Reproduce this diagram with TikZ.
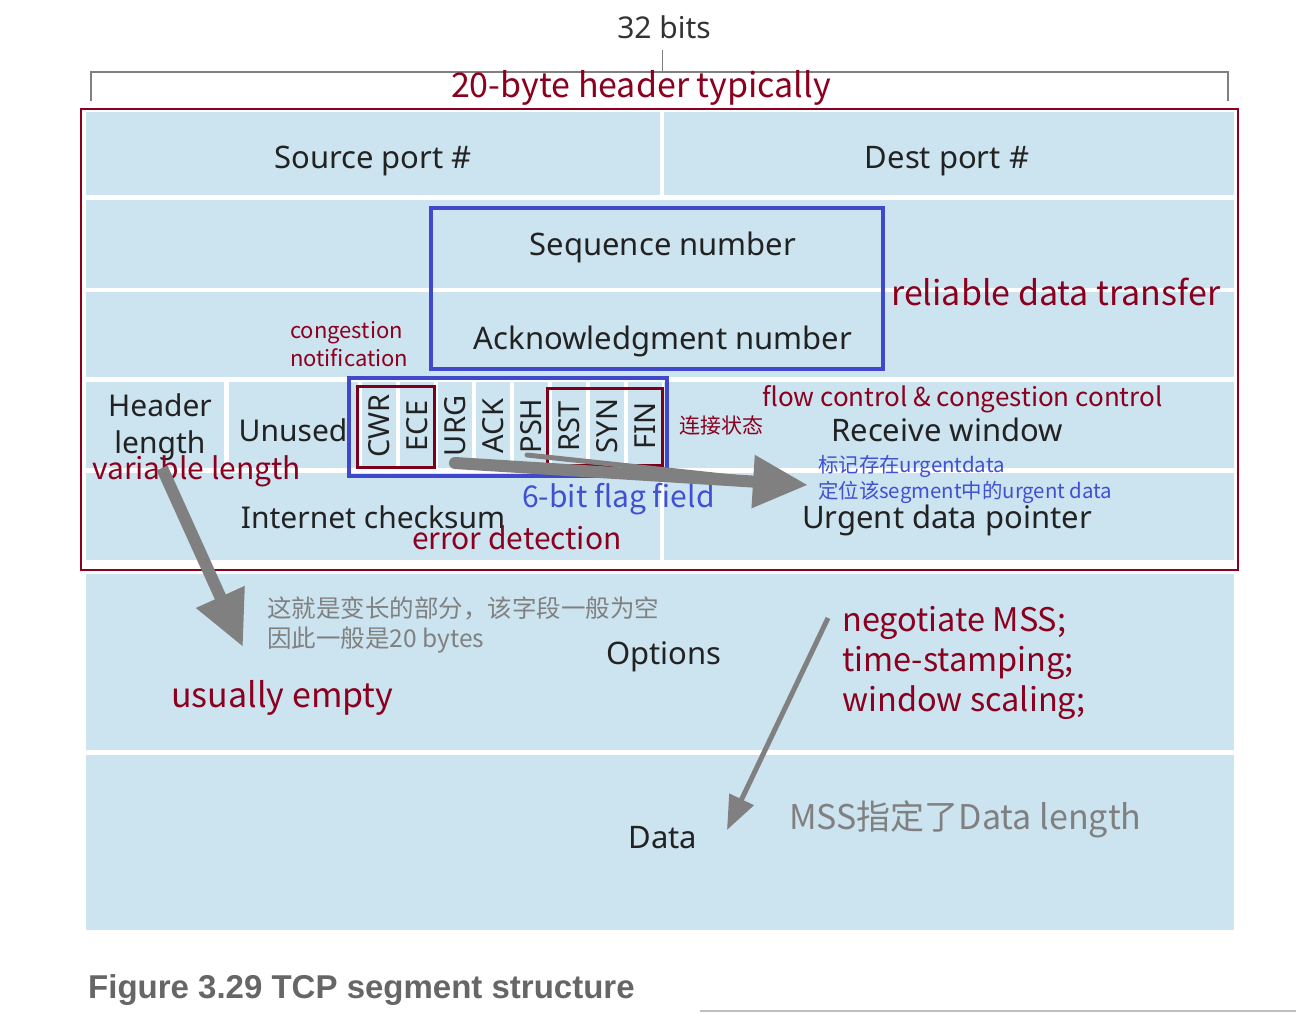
\documentclass[tikz,border=0pt]{standalone}
\usepackage{fontspec}
\setmainfont{Noto Sans}
\newfontfamily\cjk{Noto Sans CJK SC}
\newfontfamily\capfont{Liberation Sans}
\usetikzlibrary{arrows.meta}
\definecolor{cellblue}{RGB}{204,228,240}
\definecolor{dred}{RGB}{139,0,30}
\definecolor{bbox}{RGB}{64,72,204}
\definecolor{btext}{RGB}{64,80,210}
\definecolor{agray}{RGB}{128,128,128}
\definecolor{lblc}{RGB}{34,34,34}
\newcommand\fsz[2]{\fontsize{#1}{#2}\selectfont}
\begin{document}
\begin{tikzpicture}[x=1pt,y=-1pt,
  lbl/.style={text=lblc, font=\fsz{31}{37}, inner sep=0, yshift=-3pt},
  flag/.style={text=lblc, font=\fsz{29}{30}, inner sep=0, rotate=90},
  red/.style={text=dred, font=\cjk\fsz{34}{40}, inner sep=0},
  blu/.style={text=btext, font=\cjk\fsz{30}{36}, inner sep=0},
  gry/.style={text=agray, font=\cjk\fsz{24.5}{32}, inner sep=0},
  bigarrow/.style={draw=agray, line width=12pt, -{Triangle[length=55pt,width=50pt]}},
]
\useasboundingbox (0,0) rectangle (1296,1013);
\fill[white] (0,0) rectangle (1296,1013);
% cells
\fill[cellblue] (86,112) rectangle (660,195);
\fill[cellblue] (664,112) rectangle (1234,195);
\fill[cellblue] (86,200) rectangle (1234,288);
\fill[cellblue] (86,292) rectangle (1234,377);
\fill[cellblue] (86,382) rectangle (224,468);
\fill[cellblue] (229,382) rectangle (358,468);
\foreach \k in {0,...,7} {
  \fill[cellblue] ({362+38*\k},382) rectangle ({396+38*\k},468);
}
\fill[cellblue] (664,382) rectangle (1234,468);
\fill[cellblue] (86,473) rectangle (660,560);
\fill[cellblue] (664,473) rectangle (1234,560);
\fill[cellblue] (86,574) rectangle (1234,750);
\fill[cellblue] (86,755) rectangle (1234,930);
% bracket
\coordinate (bl) at (91,101);
\coordinate (blt) at (91,72);
\coordinate (brt) at (1228,72);
\coordinate (br) at (1228,101);
\coordinate (bm) at (662,72);
\coordinate (bmt) at (662,50);
\draw[agray, line width=1.5pt] (bl) -- (blt) -- (brt) -- (br);
\draw[agray, line width=1pt] (bm) -- (bmt);
\node[text=black!80, font=\fsz{30}{36}, inner sep=0, yshift=-2pt] (bits) at (664,25) {32 bits};
% boxes
\draw[dred, line width=2.5pt] (81,109) rectangle (1238,570);
\draw[bbox, line width=4pt] (431,208) rectangle (883,369);
\draw[bbox, line width=4pt] (349,378) rectangle (667,476);
\draw[dred!90!black, line width=3pt] (357,386) rectangle (434,467);
\draw[dred!90!black, line width=3pt] (547,388) rectangle (662,465);
% labels
\node[lbl] (src) at (373,158) {Source port \#};
\node[lbl] (dst) at (947,158) {Dest port \#};
\node[lbl] (seq) at (663,244) {Sequence number};
\node[lbl] (ack) at (663,338) {Acknowledgment number};
\node[lbl, align=center, font=\fsz{30}{37}] (hl) at (160,424) {Header\\length};
\node[lbl, font=\fsz{30}{37}] (unused) at (293,427) {Unused};
\node[flag] (cwr) at (379,426) {CWR};
\node[flag] (ece) at (417,426) {ECE};
\node[flag] (urg) at (455,426) {URG};
\node[flag] (ackf) at (493,426) {ACK};
\node[flag] (psh) at (531,426) {PSH};
\node[flag] (rst) at (569,426) {RST};
\node[flag] (syn) at (607,426) {SYN};
\node[flag] (fin) at (645,426) {FIN};
\node[lbl] (rw) at (947,427) {Receive window};
\node[lbl, font=\fsz{30}{37}] (ic) at (373,514) {Internet checksum};
\node[lbl] (udp) at (947,517) {Urgent data pointer};
\node[lbl] (opt) at (664,654) {Options};
\node[lbl] (data) at (663,835) {Data};
% annotations
\node[red, yshift=-3pt] (hdr) at (641,85) {20-byte header typically};
\node[red, anchor=west] (rdt) at (891,292) {reliable data transfer};
\node[red, anchor=west, align=left, font=\cjk\fsz{22}{28}] (cn) at (290,344) {congestion\\notification};
\node[red, anchor=west, font=\cjk\fsz{30}{36}] (vl) at (92,471) {variable length};
\node[red, anchor=west, font=\cjk\fsz{21}{26}] (ljzt) at (679,425) {连接状态};
\node[red, anchor=west, font=\cjk\fsz{26}{30}, yshift=-2pt] (fc) at (762,397) {flow control \& congestion control};
\node[blu, anchor=west, font=\cjk\fsz{20.4}{24}, yshift=-1pt] (u1) at (818,465) {标记存在urgentdata};
\node[blu, anchor=west, font=\cjk\fsz{20.4}{24}, yshift=-1pt] (u2) at (818,491) {定位该segment中的urgent data};
\node[blu, anchor=west] (six) at (522,499) {6-bit flag field};
\node[red, anchor=west, font=\cjk\fsz{30}{36}] (ed) at (412,538) {error detection};
\node[gry, anchor=west] (g1) at (267,608) {这就是变长的部分，该字段一般为空};
\node[gry, anchor=west] (g2) at (267,640) {因此一般是20 bytes};
\node[red, anchor=west, yshift=-2pt] (ue) at (171,696) {usually empty};
\node[red, anchor=west, align=left, font=\cjk\fsz{32.5}{40}, yshift=-5pt] (neg) at (842,658) {negotiate MSS;\\time-stamping;\\window scaling;};
\node[gry, anchor=west, font=\cjk\fsz{34}{40}] (mss) at (789,819) {MSS指定了Data length};
% arrows
\coordinate (a1s) at (455,463);
\coordinate (a1t) at (808,485);
\coordinate (a1b) at (527,455);
\coordinate (a1m) at (770,481);
\draw[agray, line width=5pt, line cap=round] (a1b) -- (a1m);
\draw[bigarrow, line cap=round] (a1s) -- (a1t);
\coordinate (a2s) at (162,468);
\coordinate (a2t) at (243,647);
\draw[bigarrow] (a2s) -- (a2t);
\coordinate (a3s) at (828,618);
\coordinate (a3t) at (727,830);
\draw[agray, line width=5pt, -{Triangle[length=34pt,width=26pt]}] (a3s) -- (a3t);
% caption
\node[text=black!60, font=\capfont\bfseries\fsz{33}{38}, anchor=west, inner sep=0] (cap) at (88,990) {Figure 3.29 TCP segment structure};
\coordinate (ll) at (700,1011);
\coordinate (lr) at (1296,1011);
\draw[black!25, line width=1.5pt] (ll) -- (lr);
\end{tikzpicture}
\end{document}
